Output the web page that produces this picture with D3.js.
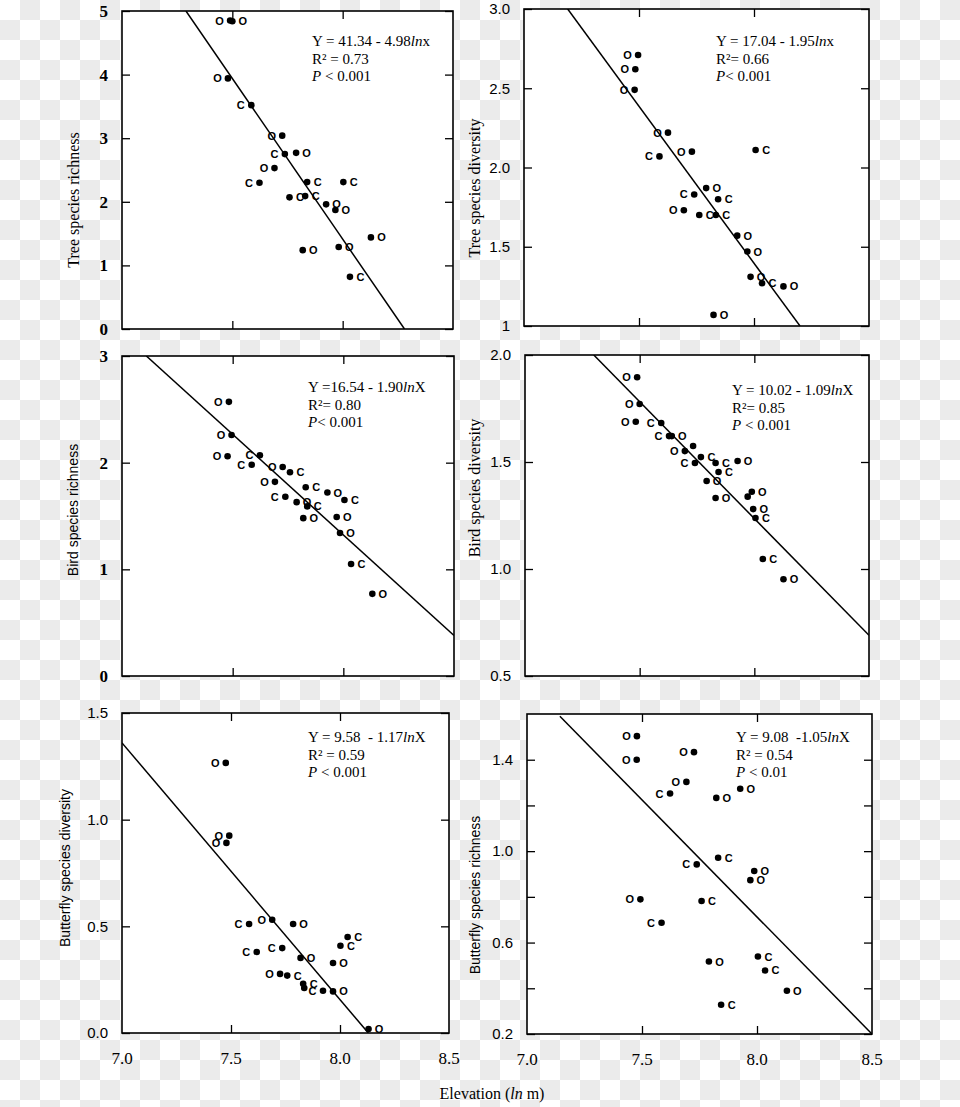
<!DOCTYPE html>
<html>
<head>
<meta charset="utf-8">
<script src="https://cdn.jsdelivr.net/npm/d3@7/dist/d3.min.js"></script>
<style>
html,body{margin:0;padding:0;}
body{width:960px;height:1107px;overflow:hidden;}
</style>
</head>
<body>
<svg id="chart" width="960" height="1107"></svg>
<script>
// ---------------- DATA ----------------
// x = ln(elevation), y = response; marks: "LO" = O label left of dot, "RC" = C label right, "" = no label
const treeRichX = [7.490,7.500,7.480,7.586,7.726,7.738,7.789,7.691,7.623,7.839,8.003,7.759,7.830,7.925,7.967,8.128,7.819,7.982,8.033];
const treeRichY = [4.85,4.84,3.94,3.52,3.04,2.75,2.77,2.53,2.30,2.31,2.31,2.07,2.09,1.96,1.87,1.44,1.24,1.29,0.82];
const treeRichM = ["LO","RO","LO","LC","LO","LC","RO","LO","LC","RC","RC","RC","RC","RO","RO","RO","RO","RO","RC"];

const treeDivX = [7.496,7.484,7.481,7.626,7.589,7.730,8.007,7.740,7.792,7.844,7.834,7.695,7.762,7.927,7.971,7.985,8.035,8.128,7.824];
const treeDivY = [2.71,2.62,2.49,2.22,2.07,2.10,2.11,1.83,1.87,1.80,1.70,1.73,1.70,1.57,1.47,1.31,1.27,1.25,1.07];
const treeDivM = ["LO","LO","LO","LO","LC","LO","RC","LC","RO","RC","RC","LO","RC","RO","RO","RO","RC","RO","RO"];

const birdRichX = [7.483,7.495,7.477,7.623,7.586,7.726,7.759,7.691,7.738,7.789,7.830,7.928,8.005,7.837,7.819,7.970,7.985,8.035,8.131];
const birdRichY = [2.57,2.26,2.06,2.07,1.98,1.96,1.91,1.82,1.68,1.63,1.77,1.72,1.65,1.59,1.48,1.49,1.34,1.05,0.77];
const birdRichM = ["LO","LO","LO","LC","LC","LO","RC","LO","LC","RO","RC","RO","RC","RC","RO","RO","RO","RC","RO"];

const birdDivX = [7.489,7.500,7.483,7.594,7.628,7.640,7.697,7.733,7.741,7.767,7.831,7.844,7.927,7.792,7.831,7.971,7.989,7.995,8.005,8.037,8.127];
const birdDivY = [1.896,1.771,1.688,1.682,1.621,1.621,1.551,1.575,1.495,1.523,1.495,1.453,1.505,1.411,1.332,1.338,1.361,1.280,1.238,1.047,0.952];
const birdDivM = ["LO","LO","LO","LC","LC","RO","LO","","LC","RC","RC","RC","RO","RO","RO","","RO","RO","RC","RC","RO"];

const butDivX = [7.476,7.492,7.479,7.583,7.689,7.785,7.618,7.735,7.819,7.968,8.002,8.035,7.725,7.758,7.831,7.836,7.922,7.968,8.131];
const butDivY = [1.266,0.925,0.891,0.511,0.531,0.511,0.380,0.398,0.352,0.328,0.409,0.450,0.277,0.269,0.231,0.211,0.198,0.195,0.019];
const butDivM = ["LO","LO","LO","LC","LO","RO","LC","LC","RO","RO","RC","RC","LO","RC","RC","","LC","RO","RO"];

const butRichX = [7.478,7.477,7.726,7.693,7.622,7.823,7.927,7.831,7.738,7.988,7.971,7.493,7.759,7.585,7.791,8.004,8.035,8.130,7.844];
const butRichY = [1.503,1.400,1.433,1.303,1.252,1.233,1.273,0.971,0.942,0.913,0.873,0.789,0.782,0.687,0.517,0.539,0.478,0.389,0.328];
const butRichM = ["LO","LO","LO","LO","LC","RO","RO","RC","LC","RO","RO","LO","RC","LC","RO","RC","RC","RO","RC"];

// fitted lines (end points)
const treeRichLine = [[7.29,5.0],[8.28,0.0]];
const treeDivLine  = [[7.19,3.0],[8.20,1.0]];
const birdRichLine = [[7.11,3.0],[8.50,0.38]];
const birdDivLine  = [[7.30,2.0],[8.50,0.69]];
const butDivLine   = [[7.00,1.36],[8.13,0.0]];
const butRichLine  = [[7.143,1.59],[8.50,0.2]];

// equations
const treeRichEq = ["Y = 41.34 - 4.98|ln|x", "R² = 0.73", "|P| < 0.001"];
const treeDivEq  = ["Y = 17.04 - 1.95|ln|x", "R²= 0.66", "|P|< 0.001"];
const birdRichEq = ["Y =16.54 - 1.90|ln|X", "R²= 0.80", "|P|< 0.001"];
const birdDivEq  = ["Y = 10.02 - 1.09|ln|X", "R²= 0.85", "|P| < 0.001"];
const butDivEq   = ["Y = 9.58  - 1.17|ln|X", "R² = 0.59", "|P| < 0.001"];
const butRichEq  = ["Y = 9.08  -1.05|ln|X", "R² = 0.54", "|P| < 0.01"];

// axis tick values / labels
const xTickValues = [7.0, 7.5, 8.0, 8.5];
const xTickLabels = ["7.0", "7.5", "8.0", "8.5"];
const treeRichTicks = [0,1,2,3,4,5];       const treeRichTickLabels = ["0","1","2","3","4","5"];
const treeDivTicks  = [1,1.5,2,2.5,3];     const treeDivTickLabels  = ["1","1.5","2.0","2.5","3.0"];
const birdRichTicks = [0,1,2,3];           const birdRichTickLabels = ["0","1","2","3"];
const birdDivTicks  = [0.5,1,1.5,2];       const birdDivTickLabels  = ["0.5","1.0","1.5","2.0"];
const butDivTicks   = [0,0.5,1,1.5];       const butDivTickLabels   = ["0.0","0.5","1.0","1.5"];
const butRichTicks  = [0.2,0.6,1.0,1.4];   const butRichTickLabels  = ["0.2","0.6","1.0","1.4"];
const butRichMinor  = [0.4,0.8,1.2];

const yTitles = ["Tree species richness","Tree species diversity","Bird species richness",
                 "Bird species diversity","Butterfly species diversity","Butterfly species richness"];
const xTitle = "Elevation (|ln| m)";

// ---------------- LAYOUT ----------------
const SERIF = "'Liberation Serif','Times New Roman',serif";
const SANS = "'Liberation Sans',Arial,sans-serif";
const panels = [
  {x:treeRichX,y:treeRichY,m:treeRichM,line:treeRichLine,eq:treeRichEq,ticks:treeRichTicks,tl:treeRichTickLabels,minor:[],
   box:[122,453,11,329],dom:[0,5],title:yTitles[0],tpos:[75,200],tfont:SERIF,tsize:16,eqpos:[312,46],tickFont:SERIF,xlab:false},
  {x:treeDivX,y:treeDivY,m:treeDivM,line:treeDivLine,eq:treeDivEq,ticks:treeDivTicks,tl:treeDivTickLabels,minor:[],
   box:[524,869,9,326],dom:[1,3],title:yTitles[1],tpos:[476,188],tfont:SERIF,tsize:16,eqpos:[716,46],tickFont:SANS,xlab:false},
  {x:birdRichX,y:birdRichY,m:birdRichM,line:birdRichLine,eq:birdRichEq,ticks:birdRichTicks,tl:birdRichTickLabels,minor:[],
   box:[122,454,356,676],dom:[0,3],title:yTitles[2],tpos:[74,510],tfont:SANS,tsize:14,eqpos:[308,392],tickFont:SERIF,xlab:false},
  {x:birdDivX,y:birdDivY,m:birdDivM,line:birdDivLine,eq:birdDivEq,ticks:birdDivTicks,tl:birdDivTickLabels,minor:[],
   box:[525,869,355,676],dom:[0.5,2],title:yTitles[3],tpos:[476,488],tfont:SERIF,tsize:16,eqpos:[732,395],tickFont:SANS,xlab:false},
  {x:butDivX,y:butDivY,m:butDivM,line:butDivLine,eq:butDivEq,ticks:butDivTicks,tl:butDivTickLabels,minor:[],
   box:[122,449,713,1033],dom:[0,1.5],title:yTitles[4],tpos:[66,868],tfont:SANS,tsize:14,eqpos:[308,742],tickFont:SANS,xlab:true},
  {x:butRichX,y:butRichY,m:butRichM,line:butRichLine,eq:butRichEq,ticks:butRichTicks,tl:butRichTickLabels,minor:butRichMinor,
   box:[527,872,714,1034],dom:[0.2,1.6],title:yTitles[5],tpos:[476,895],tfont:SANS,tsize:14,eqpos:[736,742],tickFont:SANS,xlab:true}
];

const svg = d3.select("#chart");

// checkered background
const defs = svg.append("defs");
const pat = defs.append("pattern").attr("id","checker").attr("patternUnits","userSpaceOnUse")
  .attr("width",40).attr("height",40);
pat.append("rect").attr("width",40).attr("height",40).attr("fill","#ffffff");
pat.append("rect").attr("x",20).attr("y",0).attr("width",20).attr("height",20).attr("fill","#ebebeb");
pat.append("rect").attr("x",0).attr("y",20).attr("width",20).attr("height",20).attr("fill","#ebebeb");
svg.append("rect").attr("width",960).attr("height",1107).attr("fill","url(#checker)");

function richText(sel, str){
  const parts = str.split("|");
  parts.forEach((p,i)=>{
    if(!p) return;
    sel.append("tspan").attr("font-style", i%2 ? "italic" : "normal").text(p);
  });
}

panels.forEach((p,pi)=>{
  const [l,r,t,b] = p.box;
  const x = d3.scaleLinear().domain([7.0,8.5]).range([l,r]);
  const y = d3.scaleLinear().domain(p.dom).range([b,t]);
  const g = svg.append("g");

  g.append("rect").attr("x",l).attr("y",t).attr("width",r-l).attr("height",b-t)
    .attr("fill","#ffffff");

  const cid = "clip"+pi;
  defs.append("clipPath").attr("id",cid).append("rect").attr("x",l).attr("y",t).attr("width",r-l).attr("height",b-t);

  g.append("path").attr("clip-path",`url(#${cid})`)
    .attr("d", d3.line().x(d=>x(d[0])).y(d=>y(d[1]))(p.line))
    .attr("stroke","#000").attr("stroke-width",1.5).attr("fill","none");

  const left = d3.axisLeft(y).tickValues(p.ticks).tickSize(-8).tickPadding(14)
     .tickFormat((d,i)=>p.tl[i]);
  const lg = g.append("g").attr("transform",`translate(${l},0)`).call(left);
  lg.select(".domain").remove();
  lg.selectAll("line").attr("stroke","#000").attr("stroke-width",1.3);
  lg.selectAll("text").attr("font-family",p.tickFont).attr("font-size", p.tickFont===SERIF?17:15)
    .attr("font-weight", p.tickFont===SERIF?"bold":"normal").attr("fill","#000");

  const allY = p.ticks.concat(p.minor);
  const right = d3.axisRight(y).tickValues(allY).tickSize(-8).tickFormat("");
  const rg = g.append("g").attr("transform",`translate(${r},0)`).call(right);
  rg.select(".domain").remove();
  rg.selectAll("line").attr("stroke","#000").attr("stroke-width",1.3);

  if(p.minor.length){
    const lm = d3.axisLeft(y).tickValues(p.minor).tickSize(-8).tickFormat("");
    const lmg = g.append("g").attr("transform",`translate(${l},0)`).call(lm);
    lmg.select(".domain").remove();
    lmg.selectAll("line").attr("stroke","#000").attr("stroke-width",1.3);
  }

  const inner = xTickValues.slice(1,3);
  const top = d3.axisTop(x).tickValues(inner).tickSize(-8).tickFormat("");
  const tg = g.append("g").attr("transform",`translate(0,${t})`).call(top);
  tg.select(".domain").remove();
  tg.selectAll("line").attr("stroke","#000").attr("stroke-width",1.3);

  const bottom = d3.axisBottom(x).tickValues(inner).tickSize(-8).tickFormat("");
  const bg = g.append("g").attr("transform",`translate(0,${b})`).call(bottom);
  bg.select(".domain").remove();
  bg.selectAll("line").attr("stroke","#000").attr("stroke-width",1.3);

  if(p.xlab){
    g.selectAll(".xl").data(xTickValues).enter().append("text")
      .attr("x",d=>x(d)).attr("y",b+31).attr("text-anchor","middle")
      .attr("font-family",SERIF).attr("font-size",17).attr("fill","#000")
      .text((d,i)=>xTickLabels[i]);
  }

  g.append("rect").attr("x",l).attr("y",t).attr("width",r-l).attr("height",b-t)
    .attr("fill","none").attr("stroke","#000").attr("stroke-width",1.6);

  const pts = p.x.map((v,i)=>({x:v,y:p.y[i],m:p.m[i]}));
  g.selectAll(".dot").data(pts).enter().append("circle")
    .attr("cx",d=>x(d.x)).attr("cy",d=>y(d.y)).attr("r",3.3).attr("fill","#000");
  g.selectAll(".lab").data(pts.filter(d=>d.m)).enter().append("text")
    .attr("x",d=>x(d.x) + (d.m[0]==="L" ? -10.5 : 10.5))
    .attr("y",d=>y(d.y)+4)
    .attr("text-anchor","middle")
    .attr("font-family",SANS).attr("font-size",11).attr("font-weight","bold").attr("fill","#000")
    .text(d=>d.m[1]);

  p.eq.forEach((s,i)=>{
    const tx = g.append("text").attr("x",p.eqpos[0]).attr("y",p.eqpos[1]+i*17.5)
      .attr("font-family",SERIF).attr("font-size",15).attr("fill","#000")
      .attr("xml:space","preserve");
    richText(tx,s);
  });

  g.append("text").attr("transform",`translate(${p.tpos[0]},${p.tpos[1]}) rotate(-90)`)
    .attr("text-anchor","middle").attr("dominant-baseline","middle")
    .attr("font-family",p.tfont).attr("font-size",p.tsize).attr("fill","#000")
    .text(p.title);
});

const xt = svg.append("text").attr("x",492).attr("y",1099).attr("text-anchor","middle")
  .attr("font-family",SERIF).attr("font-size",16).attr("fill","#000");
richText(xt, xTitle);
</script>
</body>
</html>
